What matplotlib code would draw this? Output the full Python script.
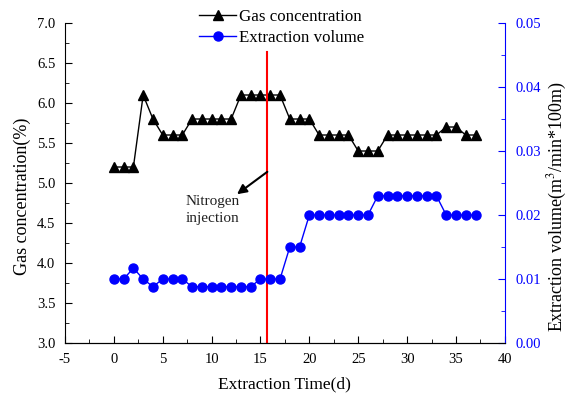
import matplotlib
matplotlib.use("Agg")
import matplotlib.pyplot as plt
from matplotlib.ticker import MultipleLocator, FormatStrFormatter

plt.rcParams['font.family'] = ['Liberation Serif', 'DejaVu Serif']
plt.rcParams['mathtext.fontset'] = 'stix'
plt.rcParams['axes.unicode_minus'] = False

days = list(range(38))
gas = [5.2, 5.2, 5.2, 6.1, 5.8, 5.6, 5.6, 5.6, 5.8, 5.8, 5.8, 5.8, 5.8,
       6.1, 6.1, 6.1, 6.1, 6.1, 5.8, 5.8, 5.8, 5.6, 5.6, 5.6, 5.6,
       5.4, 5.4, 5.4, 5.6, 5.6, 5.6, 5.6, 5.6, 5.6, 5.7, 5.7, 5.6, 5.6]
volume = [0.010, 0.010, 0.0117, 0.010, 0.0088, 0.010, 0.010, 0.010,
          0.0088, 0.0088, 0.0088, 0.0088, 0.0088, 0.0088, 0.0088,
          0.010, 0.010, 0.010, 0.015, 0.015, 0.020, 0.020, 0.020, 0.020,
          0.020, 0.020, 0.020, 0.023, 0.023, 0.023, 0.023, 0.023, 0.023,
          0.023, 0.020, 0.020, 0.020, 0.020]
injection_day = 15.7

fig = plt.figure(figsize=(5.75, 3.94), dpi=100)
ax = fig.add_axes([0.113, 0.1294, 0.765, 0.8122])
ax2 = ax.twinx()

l1, = ax.plot(days, gas, color='black', marker='^', markersize=7, linewidth=1,
              label='Gas concentration')
l2, = ax2.plot(days, volume, color='blue', marker='o', markersize=6.5, linewidth=1,
               label='Extraction volume')

ax.set_xlim(-5, 40)
ax.set_ylim(3.0, 7.0)
ax2.set_ylim(0.0, 0.05)

ax.axvline(injection_day, ymin=0, ymax=(6.64 - 3.0) / 4.0, color='red', linewidth=1.5)

ax.text(7.3, 4.66, 'Nitrogen\ninjection', fontsize=11, ha='left', va='center',
        color='#222222', linespacing=1.35)
ax.annotate('', xy=(12.6, 4.86), xytext=(injection_day, 5.14),
            arrowprops=dict(arrowstyle='-|>', color='black', lw=1.5,
                            mutation_scale=14, shrinkA=0, shrinkB=0))

ax.xaxis.set_major_locator(MultipleLocator(5))
ax.xaxis.set_minor_locator(MultipleLocator(2.5))
ax.yaxis.set_major_locator(MultipleLocator(0.5))
ax.yaxis.set_minor_locator(MultipleLocator(0.25))
ax2.yaxis.set_major_locator(MultipleLocator(0.01))
ax2.yaxis.set_minor_locator(MultipleLocator(0.005))
ax.yaxis.set_major_formatter(FormatStrFormatter('%.1f'))
ax2.yaxis.set_major_formatter(FormatStrFormatter('%.2f'))

ax.tick_params(axis='both', which='both', direction='in', labelsize=10.5, pad=7)
ax.tick_params(which='major', length=5)
ax.tick_params(which='minor', length=3)
ax.tick_params(axis='x', top=False)
ax2.tick_params(axis='y', which='both', direction='in', colors='blue',
                labelsize=10.5, pad=8)
ax2.tick_params(which='major', length=5)
ax2.tick_params(which='minor', length=3)

for a in (ax, ax2):
    a.spines['top'].set_visible(False)
ax2.spines['right'].set_color('blue')
ax2.spines['left'].set_visible(False)
ax.spines['right'].set_visible(False)

ax.set_xlabel('Extraction Time(d)', fontsize=12.5, labelpad=8)
ax.set_ylabel('Gas concentration(%)', fontsize=13)
ax2.set_ylabel('Extraction volume(m$^3$/min*100m)', fontsize=13, color='black')
ax.yaxis.label.set_va('center')
ax2.yaxis.label.set_va('center')
ax.yaxis.set_label_coords(-0.098, 0.459)
ax2.yaxis.set_label_coords(1.12, 0.428)

fig.legend(handles=[l1, l2], loc='upper center', bbox_to_anchor=(0.49, 1.015),
           frameon=False, fontsize=12.2, handlelength=2.2, handletextpad=0.15,
           labelspacing=0.25)

fig.savefig('out.png', dpi=100)
